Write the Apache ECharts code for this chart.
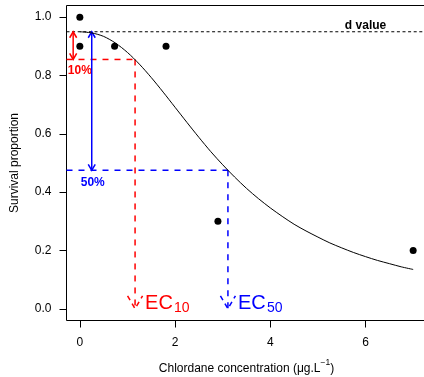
<!DOCTYPE html>
<html><head><meta charset="utf-8">
<script src="https://cdn.jsdelivr.net/npm/echarts@6/dist/echarts.min.js"></script>
<style>html,body{margin:0;padding:0;background:#fff}#c{width:424px;height:377px}</style>
</head><body><div id="c"></div>
<script>
// Observed data
const obsConc = [0, 0, 0.73, 1.81, 2.9, 7.0];
const obsSurv = [1.0, 0.9, 0.9, 0.9, 0.3, 0.2];
// Fitted curve
const fitConc = [0, 0.25, 0.5, 0.75, 1, 1.25, 1.5, 1.75, 2, 2.25, 2.5, 2.75, 3, 3.25, 3.5, 3.75, 4, 4.25, 4.5, 4.75, 5, 5.25, 5.5, 5.75, 6, 6.25, 6.5, 6.75, 7];
const fitSurv = [0.950, 0.946, 0.934, 0.911, 0.879, 0.839, 0.793, 0.743, 0.691, 0.639, 0.588, 0.539, 0.494, 0.452, 0.413, 0.378, 0.346, 0.317, 0.290, 0.267, 0.246, 0.226, 0.209, 0.193, 0.179, 0.166, 0.155, 0.144, 0.135];
// Annotation values
const dValue = 0.95;
const ec10 = 1.16;
const ec50 = 3.11;
const level10 = 0.855;
const level50 = 0.475;
const arrow10X = -0.14;
const arrow50X = 0.25;
const dLabelX = 6;
// Axes
const xTicks = [0, 2, 4, 6];
const yTicks = [0, 0.2, 0.4, 0.6, 0.8, 1.0];
const xRange = [-0.28, 7.28];
const yRange = [-0.04, 1.04];

const RED = '#FF0000', BLUE = '#0000FF';
const FONT = '"Liberation Sans", Arial, sans-serif';

function renderAnno(params, api) {
  const P = (x, y) => api.coord([x, y]);
  const ch = [];
  function seg(a, b, color, dash, width) {
    ch.push({type: 'line', shape: {x1: a[0], y1: a[1], x2: b[0], y2: b[1]},
      style: {stroke: color, lineWidth: width, lineDash: dash || null}});
  }
  function head(tip, dir, len, half, color, dash, width) {
    ch.push({type: 'polyline', shape: {points: [[tip[0] - half, tip[1] - dir * len], [tip[0], tip[1]], [tip[0] + half, tip[1] - dir * len]]},
      style: {stroke: color, fill: null, lineWidth: width, lineDash: dash || null}});
  }
  function text(x, y, str, color, font, align) {
    ch.push({type: 'text', x: x, y: y, style: {text: str, fill: color, font: font, align: align || 'center', verticalAlign: 'middle', textAlign: align || 'center', textVerticalAlign: 'middle'}});
  }
  // d value dotted line
  seg(P(xRange[0], dValue), P(xRange[1], dValue), '#000', [3, 2.6], 1);
  const dl = P(dLabelX, dValue);
  text(dl[0], dl[1] - 6.5, 'd value', '#000', 'bold 12px ' + FONT);

  // EC10 (red)
  const r1 = P(xRange[0], level10), r2 = P(ec10, level10), r3 = P(ec10, 0);
  seg(r1, r2, RED, [6, 6], 1.5);
  seg(r2, r3, RED, [6, 6], 1.5);
  head(r3, 1, 13, 7.5, RED, [5, 4], 1.5);
  const ra = P(arrow10X, dValue), rb = P(arrow10X, level10);
  seg(ra, rb, RED, null, 1.5);
  head(ra, -1, 6, 3.5, RED, null, 1.5);
  head(rb, 1, 6, 3.5, RED, null, 1.5);
  const t10 = P(0, level10);
  text(t10[0], t10[1] + 11, '10%', RED, 'bold 12px ' + FONT);
  text(r3[0] + 10, r3[1] - 5.5, 'EC', RED, '20px ' + FONT, 'left');
  text(r3[0] + 39, r3[1] - 1, '10', RED, '14px ' + FONT, 'left');

  // EC50 (blue)
  const b1 = P(xRange[0], level50), b2 = P(ec50, level50), b3 = P(ec50, 0);
  seg(b1, b2, BLUE, [6, 6], 1.5);
  seg(b2, b3, BLUE, [6, 6], 1.5);
  head(b3, 1, 13, 7.5, BLUE, [5, 4], 1.5);
  const ba = P(arrow50X, dValue), bb = P(arrow50X, level50);
  seg(ba, bb, BLUE, null, 1.5);
  head(ba, -1, 6, 3.5, BLUE, null, 1.5);
  head(bb, 1, 6, 3.5, BLUE, null, 1.5);
  text(bb[0] + 1, bb[1] + 12, '50%', BLUE, 'bold 12px ' + FONT);
  text(b3[0] + 10, b3[1] - 5.5, 'EC', BLUE, '20px ' + FONT, 'left');
  text(b3[0] + 39, b3[1] - 1, '50', BLUE, '14px ' + FONT, 'left');

  return {type: 'group', children: ch};
}

const chart = echarts.init(document.getElementById('c'), null, {renderer: 'canvas'});
chart.setOption({
  animation: false,
  backgroundColor: '#fff',
  grid: {left: 66.5, top: 5.5, width: 360, height: 315, show: true, borderColor: '#000', borderWidth: 1,
    backgroundColor: 'transparent', containLabel: false, outerBoundsMode: 'none'},
  xAxis: {
    type: 'value', min: xRange[0], max: xRange[1],
    axisLine: {show: false, onZero: false}, splitLine: {show: false},
    axisTick: {show: true, inside: false, length: 7, customValues: xTicks, lineStyle: {color: '#000', width: 1}},
    axisLabel: {customValues: xTicks, margin: 16, fontSize: 12, color: '#000', fontFamily: FONT, formatter: v => String(v)},
    name: '{a|Chlordane concentration (μg.L}{s|−1}{a|)}',
    nameLocation: 'middle', nameGap: 38,
    nameTextStyle: {
      rich: {
        a: {fontSize: 12, color: '#000', fontFamily: FONT, lineHeight: 16, verticalAlign: 'bottom'},
        s: {fontSize: 8.5, color: '#000', fontFamily: FONT, lineHeight: 16, verticalAlign: 'top'}
      }
    }
  },
  yAxis: {
    type: 'value', min: yRange[0], max: yRange[1],
    axisLine: {show: false, onZero: false}, splitLine: {show: false},
    axisTick: {show: true, inside: false, length: 7, customValues: yTicks, lineStyle: {color: '#000', width: 1}},
    axisLabel: {customValues: yTicks, margin: 15, fontSize: 12, color: '#000', fontFamily: FONT, formatter: v => v.toFixed(1)},
    name: 'Survival proportion', nameLocation: 'middle', nameGap: 46,
    nameTextStyle: {fontSize: 12, color: '#000', fontFamily: FONT}
  },
  series: [
    {type: 'custom', coordinateSystem: 'cartesian2d', data: [[0, 0]], renderItem: renderAnno, z: 3, silent: true, clip: false},
    {type: 'line', data: fitConc.map((x, i) => [x, fitSurv[i]]), showSymbol: false, smooth: 0.3,
      lineStyle: {color: '#000', width: 1}, z: 4, silent: true},
    {type: 'scatter', data: obsConc.map((x, i) => [x, obsSurv[i]]), symbol: 'circle', symbolSize: 7,
      itemStyle: {color: '#000', opacity: 1}, z: 5, silent: true}
  ]
});
</script></body></html>
